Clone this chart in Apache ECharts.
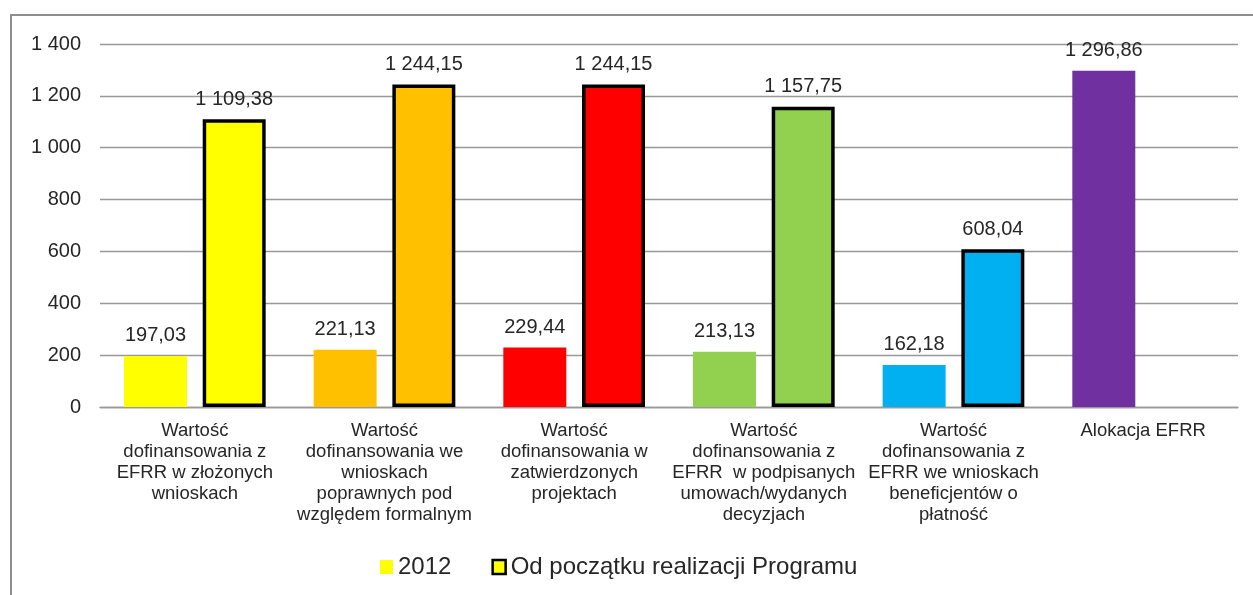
<!DOCTYPE html>
<html>
<head>
<meta charset="utf-8">
<style>
  html, body { margin: 0; padding: 0; background: #fff; }
  #frame { position: absolute; left: 10px; top: 14px; width: 1260px; height: 600px;
           border: 2.5px solid #8e8e8e; box-sizing: border-box; }
  #chart { position: absolute; left: 0; top: 0; width: 1253px; height: 595px; }
</style>
<script src="https://cdn.jsdelivr.net/npm/echarts@6/dist/echarts.min.js"></script>
</head>
<body>
<div id="frame"></div>
<div id="chart"></div>
<script>
// Categories (line breaks as laid out under the axis)
const categories = [
  'Wartość\ndofinansowania z\nEFRR w złożonych\nwnioskach',
  'Wartość\ndofinansowania we\nwnioskach\npoprawnych pod\nwzględem formalnym',
  'Wartość\ndofinansowania w\nzatwierdzonych\nprojektach',
  'Wartość\ndofinansowania z\nEFRR  w podpisanych\numowach/wydanych\ndecyzjach',
  'Wartość\ndofinansowania z\nEFRR we wnioskach\nbeneficjentów o\npłatność',
  'Alokacja EFRR'
];
const seriesNames = ['2012', 'Od początku realizacji Programu'];
// mln PLN
const values2012 = [197.03, 221.13, 229.44, 213.13, 162.18];
const valuesTotal = [1109.38, 1244.15, 1244.15, 1157.75, 608.04];
const allocation = 1296.86;
const barColors = ['#FFFF00', '#FFC000', '#FF0000', '#92D050', '#00B0F0', '#7030A0'];
const yTicks = { min: 0, max: 1400, interval: 200 };

function plNumber(v, decimals) {
  const parts = v.toFixed(decimals).split('.');
  const intPart = parts[0].replace(/\B(?=(\d{3})+(?!\d))/g, ' ');
  return parts.length > 1 ? intPart + ',' + parts[1] : intPart;
}

const textColor = '#262626';
const font = 'Arial, "Liberation Sans", sans-serif';

const firstData = values2012.map((v, i) => ({ value: v, itemStyle: { color: barColors[i] } }));
firstData.push({ value: allocation, itemStyle: { color: barColors[5] } });
const secondData = valuesTotal.map((v, i) => ({ value: v, itemStyle: { color: barColors[i] } }));
secondData.push('-');

const valueLabel = {
  show: true,
  position: 'top',
  distance: 10,
  fontSize: 20,
  color: textColor,
  fontFamily: font,
  formatter: p => plNumber(p.value, 2)
};

const chart = echarts.init(document.getElementById('chart'), null, { renderer: 'canvas' });
chart.setOption({
  animation: false,
  textStyle: { fontFamily: font },
  grid: { left: 100, right: 15, top: 44, bottom: 188, containLabel: false },
  legend: {
    top: 550,
    left: 375,
    itemWidth: 13,
    itemHeight: 14,
    itemGap: 40,
    itemTextGap: 6,
    textStyle: { fontSize: 24, color: textColor, fontFamily: font },
    data: [
      { name: seriesNames[0], icon: 'rect', itemStyle: { color: '#FFFF00', borderWidth: 0 } },
      { name: seriesNames[1], icon: 'rect', itemStyle: { color: '#FFFF00', borderColor: '#000', borderWidth: 2.5 } }
    ]
  },
  xAxis: {
    type: 'category',
    data: categories,
    axisLine: { lineStyle: { color: '#999', width: 1.3 } },
    axisTick: { show: false },
    axisLabel: {
      interval: 0,
      fontSize: 18.5,
      lineHeight: 20.8,
      color: textColor,
      margin: 14,
      fontFamily: font
    }
  },
  yAxis: {
    type: 'value',
    min: yTicks.min,
    max: yTicks.max,
    interval: yTicks.interval,
    axisLine: { show: false },
    axisTick: { show: false },
    splitLine: { lineStyle: { color: '#999', width: 1.3 } },
    axisLabel: {
      fontSize: 20,
      color: textColor,
      margin: 19,
      fontFamily: font,
      formatter: v => plNumber(v, 0)
    }
  },
  series: [
    {
      name: seriesNames[0],
      type: 'bar',
      barWidth: '33.2%',
      barGap: '25%',
      itemStyle: { color: '#FFFF00' },
      label: valueLabel,
      data: firstData
    },
    {
      name: seriesNames[1],
      type: 'bar',
      barWidth: '33.2%',
      barGap: '25%',
      itemStyle: { color: '#FFFF00', borderColor: '#000', borderWidth: 3.5 },
      label: valueLabel,
      data: secondData
    }
  ]
});
</script>
</body>
</html>
